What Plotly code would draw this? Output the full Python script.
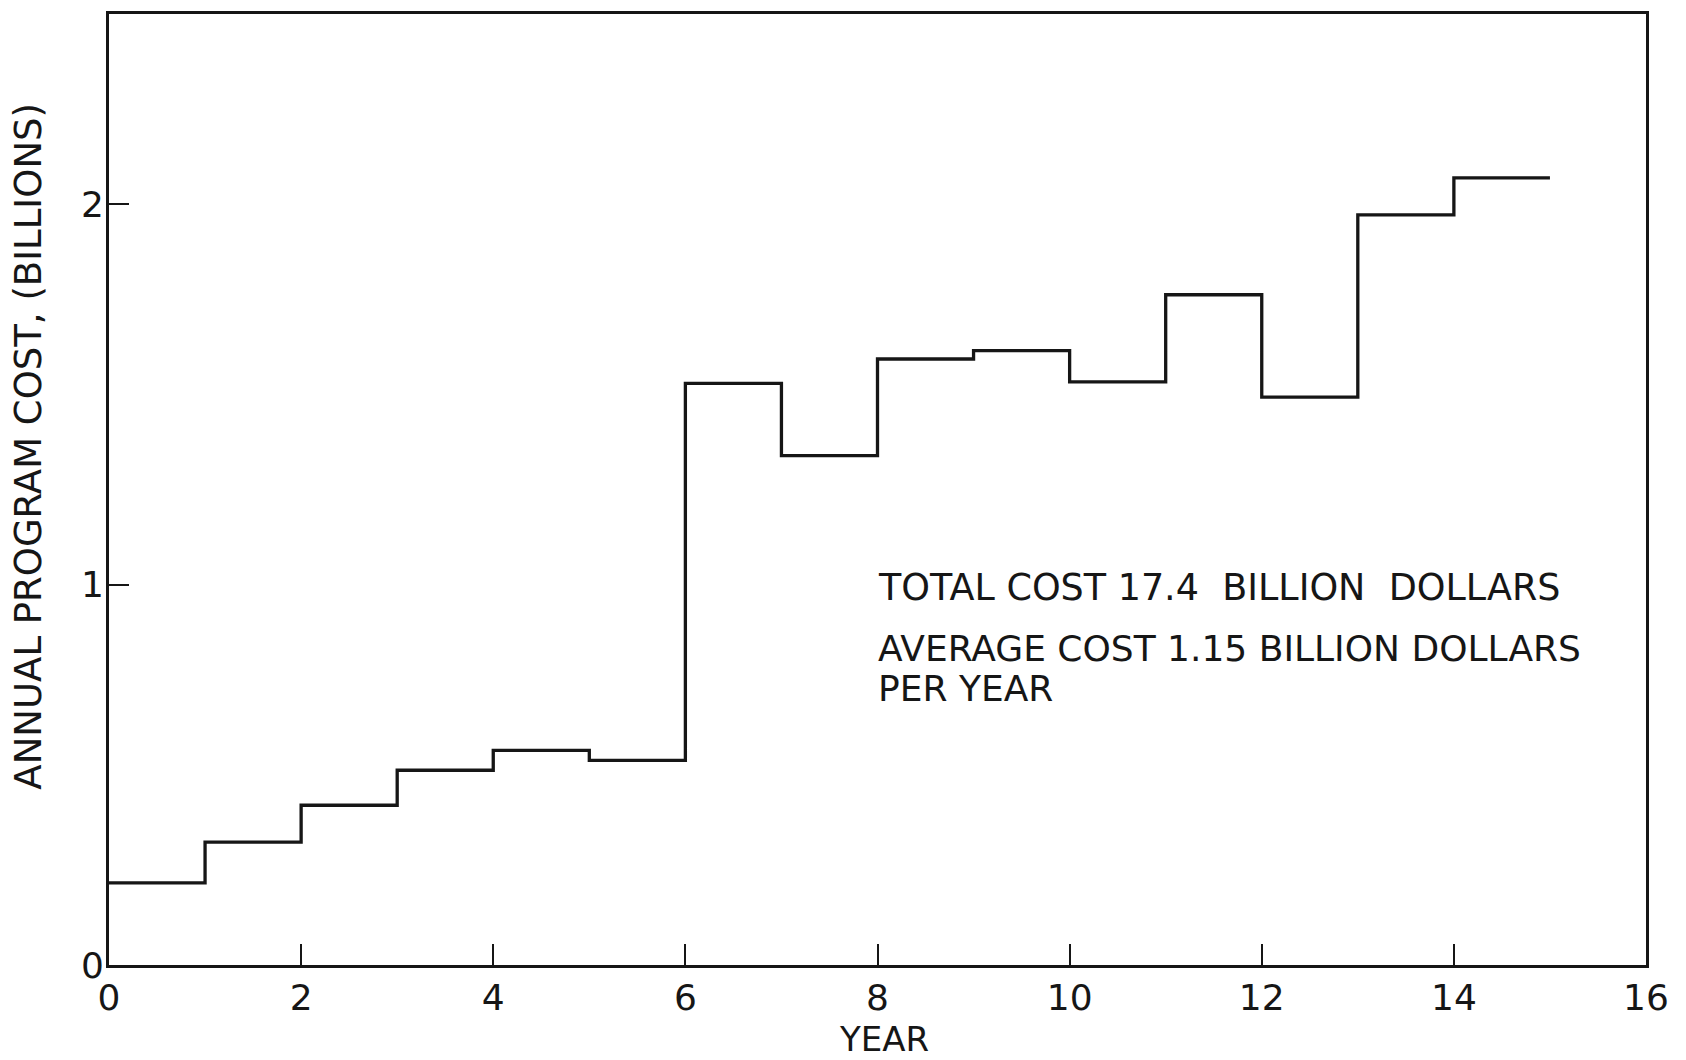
import plotly.graph_objects as go

# Data
year_start = [0, 1, 2, 3, 4, 5, 6, 7, 8, 9, 10, 11, 12, 13, 14]
annual_cost = [0.216, 0.323, 0.420, 0.512, 0.564, 0.538, 1.529, 1.339,
               1.593, 1.615, 1.533, 1.762, 1.493, 1.972, 2.069]
x_ticks = [0, 2, 4, 6, 8, 10, 12, 14, 16]
x_tick_labels = ["0", "2", "4", "6", "8", "10", "12", "14", "16"]
y_ticks = [0, 1, 2]
y_tick_labels = ["0", "1", "2"]
note_lines = ["TOTAL COST 17.4\u00a0 BILLION\u00a0 DOLLARS",
              "AVERAGE COST 1.15 BILLION DOLLARS",
              "PER YEAR"]

# step edges: each year's level held until the next year
step_x = year_start + [year_start[-1] + 1]
step_y = annual_cost + [annual_cost[-1]]

FONT = "DejaVu Sans"
INK = "#161616"

fig = go.Figure()
fig.add_trace(go.Scatter(
    x=step_x, y=step_y, mode="lines",
    line=dict(shape="hv", color=INK, width=3.3),
    showlegend=False, hoverinfo="skip",
))

# page body has an 8px margin; figure is sized so the page fills the window
OFF = 8
W, H = 1686 - OFF, 1060 - OFF
# target plot area in page pixels
PL, PR, PT, PB = 109, 1646, 11, 965
L, R, T, B = PL - OFF, W - (PR - OFF), PT - OFF, H - (PB - OFF)

fig.update_layout(
    width=W, height=H,
    margin=dict(l=L, r=R, t=T, b=B, pad=0),
    paper_bgcolor="white", plot_bgcolor="white",
    font=dict(family=FONT, color=INK, size=36),
    showlegend=False,
)
fig.update_xaxes(
    range=[0, 16], tickvals=x_ticks, ticktext=x_tick_labels,
    showgrid=False, zeroline=False,
    showline=True, mirror=True, linecolor=INK, linewidth=2.6,
    ticks="inside", ticklen=21, tickwidth=2, tickcolor=INK,
    tickfont=dict(family=FONT, size=36, color=INK),
    ticklabelstandoff=-1,
)
fig.update_yaxes(
    range=[0, 2.5], tickvals=y_ticks, ticktext=y_tick_labels,
    showgrid=False, zeroline=False,
    showline=True, mirror=True, linecolor=INK, linewidth=2.6,
    ticks="inside", ticklen=20, tickwidth=2, tickcolor=INK,
    tickfont=dict(family=FONT, size=36, color=INK),
    ticklabelstandoff=-5,
)

ph = PB - PT
def py(pix):
    return (PB - pix) / ph

pw = PR - PL
def px(pix):
    return (pix - PL) / pw

# axis titles
fig.add_annotation(text="YEAR", xref="paper", yref="paper",
                   x=px(884), y=py(1039), xanchor="center", yanchor="middle",
                   showarrow=False, font=dict(family=FONT, size=34, color=INK))
fig.add_annotation(text="ANNUAL PROGRAM COST, (BILLIONS)", xref="paper", yref="paper",
                   x=px(29), y=py(445), xanchor="center", yanchor="middle",
                   textangle=-90, showarrow=False,
                   font=dict(family=FONT, size=37, color=INK))

# note text
note_y = [586, 647, 688]
note_size = [36.5, 36, 36]
for line, yy, sz in zip(note_lines, note_y, note_size):
    fig.add_annotation(text=line, xref="x", yref="paper",
                       x=7.98, y=py(yy), xanchor="left", yanchor="middle",
                       showarrow=False,
                       font=dict(family=FONT, size=sz, color=INK))

fig.write_html("out.html")
